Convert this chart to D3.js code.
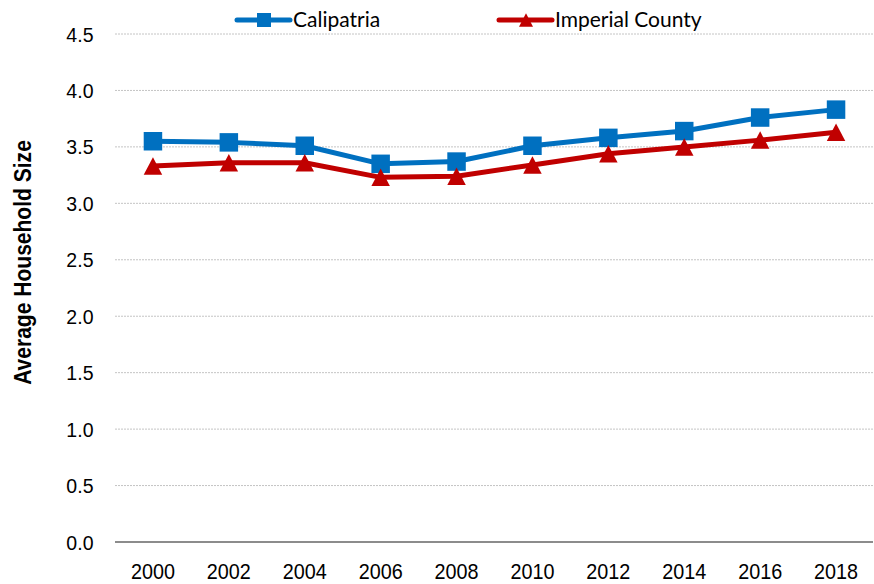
<!DOCTYPE html>
<html>
<head>
<meta charset="utf-8">
<script src="https://cdn.jsdelivr.net/npm/d3@7"></script>
<style>
  body { margin: 0; background: #fff; }
  .tick-label { font-family: "Liberation Sans", Arial, sans-serif; fill: #000; }
  .legend-label { font-family: Lato, "Open Sans", sans-serif; font-size: 21px; fill: #000; }
</style>
</head>
<body>
<div id="chart"></div>
<script>
// Data
const years = ["2000", "2002", "2004", "2006", "2008", "2010", "2012", "2014", "2016", "2018"];
const calipatria = [3.55, 3.54, 3.51, 3.35, 3.37, 3.51, 3.58, 3.64, 3.76, 3.83];
const imperialCounty = [3.33, 3.36, 3.36, 3.23, 3.24, 3.34, 3.44, 3.50, 3.56, 3.63];
const yTicks = [0, 0.5, 1.0, 1.5, 2.0, 2.5, 3.0, 3.5, 4.0, 4.5];

const seriesList = [
    { name: "Calipatria", values: calipatria, color: "#0070C0", marker: "square" },
    { name: "Imperial County", values: imperialCounty, color: "#C00000", marker: "triangle" }
];

const width = 874;
const height = 584;
const margin = { top: 34, right: 0, bottom: 42, left: 115 };

const svg = d3.select("#chart")
    .append("svg")
    .attr("width", width)
    .attr("height", height);

const x = d3.scaleBand()
    .domain(years)
    .range([margin.left, width - margin.right]);

const y = d3.scaleLinear()
    .domain([0, 4.5])
    .range([height - margin.bottom, margin.top]);

// Gridlines
svg.append("g")
    .selectAll("line")
    .data(yTicks.filter(d => d > 0))
    .enter()
    .append("line")
    .attr("x1", margin.left)
    .attr("x2", width - 1)
    .attr("y1", d => y(d))
    .attr("y2", d => y(d))
    .attr("stroke", "#c4c4c4")
    .attr("stroke-width", 1)
    .attr("stroke-dasharray", "2,1");

// Zero baseline
svg.append("line")
    .attr("x1", margin.left)
    .attr("x2", width - 1)
    .attr("y1", y(0))
    .attr("y2", y(0))
    .attr("stroke", "#8c8c8c")
    .attr("stroke-width", 2);

// Y axis labels (narrowed a bit to look like Arial Narrow)
svg.append("g")
    .selectAll("text")
    .data(yTicks)
    .enter()
    .append("text")
    .attr("class", "tick-label")
    .attr("transform", d => `translate(93.5, ${y(d)}) scale(0.93, 1)`)
    .attr("dy", "0.36em")
    .attr("text-anchor", "end")
    .style("font-size", "21px")
    .text(d => d3.format(".1f")(d));

// X axis labels
svg.append("g")
    .selectAll("text")
    .data(years)
    .enter()
    .append("text")
    .attr("class", "tick-label")
    .attr("transform", d => `translate(${x(d) + x.bandwidth() / 2}, 578.5) scale(0.9, 1)`)
    .attr("text-anchor", "middle")
    .style("font-size", "22px")
    .text(d => d);

// Y axis title
svg.append("text")
    .attr("transform", "translate(31, 262.5) rotate(-90) scale(0.915, 1)")
    .attr("text-anchor", "middle")
    .style("font-family", "'Liberation Sans', Arial, sans-serif")
    .style("font-size", "23px")
    .style("font-weight", "bold")
    .text("Average Household Size");

const line = d3.line()
    .x((d, i) => x(years[i]) + x.bandwidth() / 2)
    .y(d => y(d));

// markers
function squarePath(s) {
    const h = s / 2;
    return `M${-h},${-h}H${h}V${h}H${-h}Z`;
}
function trianglePath(w, h) {
    return `M0,${-h / 2}L${w / 2},${h / 2}L${-w / 2},${h / 2}Z`;
}
function markerPath(type, big) {
    if (type === "square") return squarePath(big ? 18.5 : 14);
    return big ? trianglePath(18.5, 17.5) : trianglePath(14, 13.5);
}

seriesList.forEach(s => {
    const g = svg.append("g");
    g.append("path")
        .datum(s.values)
        .attr("fill", "none")
        .attr("stroke", s.color)
        .attr("stroke-width", 5)
        .attr("stroke-linejoin", "round")
        .attr("d", line);
    g.selectAll("path.marker")
        .data(s.values)
        .enter()
        .append("path")
        .attr("class", "marker")
        .attr("d", markerPath(s.marker, true))
        .attr("fill", s.color)
        .attr("transform", (d, i) => `translate(${x(years[i]) + x.bandwidth() / 2},${y(d)})`);
});

// Legend
const legendItems = [
    { x0: 237, s: seriesList[0] },
    { x0: 499, s: seriesList[1] }
];
legendItems.forEach(item => {
    const lg = svg.append("g").attr("transform", `translate(${item.x0}, 20)`);
    lg.append("line")
        .attr("x1", 0)
        .attr("x2", 53)
        .attr("stroke", item.s.color)
        .attr("stroke-width", 5)
        .attr("stroke-linecap", "round");
    lg.append("path")
        .attr("d", markerPath(item.s.marker, false))
        .attr("fill", item.s.color)
        .attr("transform", "translate(27, 0)");
    lg.append("text")
        .attr("class", "legend-label")
        .attr("x", 56)
        .attr("y", 7)
        .text(item.s.name);
});
</script>
</body>
</html>
